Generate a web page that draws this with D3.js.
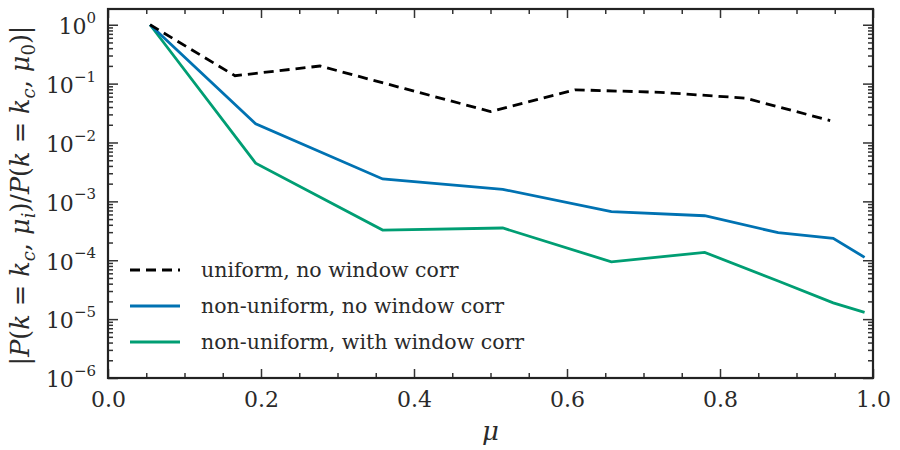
<!DOCTYPE html>
<html>
<head>
<meta charset="utf-8">
<script src="https://cdn.jsdelivr.net/npm/d3@7"></script>
<style>
  body { margin: 0; background: #fff; }
  svg text { font-family: "DejaVu Serif"; fill: #2a2a2a; }
</style>
</head>
<body>
<div id="chart"></div>
<script>
// mu bins
var muUniform = [0.055, 0.166, 0.277, 0.388, 0.5, 0.611, 0.722, 0.833, 0.944];
var muNonUniform = [0.055, 0.193, 0.359, 0.516, 0.658, 0.780, 0.876, 0.948, 0.989];

// |P(k=kc, mu_i) / P(k=kc, mu_0)|
var uniformNoCorr = [1.0, 0.136, 0.199, 0.082, 0.0336, 0.0785, 0.0711, 0.0567, 0.0236];
var nonUniformNoCorr = [1.0, 0.0207, 0.0024, 0.0016, 6.7e-4, 5.7e-4, 2.94e-4, 2.36e-4, 1.12e-4];
var nonUniformWithCorr = [1.0, 4.45e-3, 3.26e-4, 3.53e-4, 9.4e-5, 1.36e-4, 4.43e-5, 1.89e-5, 1.30e-5];

var seriesNames = ["uniform, no window corr", "non-uniform, no window corr", "non-uniform, with window corr"];
var xMajorTicks = [0, 0.2, 0.4, 0.6, 0.8, 1.0];
var yExponents = [0, -1, -2, -3, -4, -5, -6];

var FONT = '"DejaVu Serif"';

var width = 900, height = 450;
var margin = {top: 9, right: 27, bottom: 72, left: 108};
var w = width - margin.left - margin.right;
var h = height - margin.top - margin.bottom;

var svg = d3.select('#chart').append('svg')
  .attr('width', width)
  .attr('height', height)
  .style('font-family', FONT);

var g = svg.append('g').attr('transform', 'translate(' + margin.left + ',' + margin.top + ')');

var x = d3.scaleLinear().domain([0, 1]).range([0, w]);
var y = d3.scaleLog().domain([1e-6, 1.85]).range([h, 0]);

// minor ticks
var xMinor = d3.range(0, 1.0001, 0.05).filter(function(v){ return Math.abs(v*5 - Math.round(v*5)) > 1e-6; });
var yMinor = [];
for (var e = -6; e < 1; e++) {
  for (var m = 2; m < 10; m++) {
    var v = m * Math.pow(10, e);
    if (v <= 1.85) yMinor.push(v);
  }
}

function styleAxis(sel) {
  sel.attr('font-family', FONT);
  sel.select('.domain').remove();
  sel.selectAll('line').attr('stroke', '#333').attr('stroke-width', 1.5);
}

// x axis bottom + top
g.append('g').attr('transform', 'translate(0,' + h + ')')
  .call(d3.axisBottom(x).tickValues(xMajorTicks).tickSizeInner(-9).tickSizeOuter(0).tickPadding(13).tickFormat(d3.format('.1f')))
  .call(styleAxis)
  .selectAll('text').attr('font-size', 22);
g.append('g').attr('transform', 'translate(0,' + h + ')')
  .call(d3.axisBottom(x).tickValues(xMinor).tickSizeInner(-5).tickSizeOuter(0).tickFormat(''))
  .call(styleAxis);
g.append('g')
  .call(d3.axisTop(x).tickValues(xMajorTicks).tickSizeInner(-9).tickSizeOuter(0).tickFormat(''))
  .call(styleAxis);
g.append('g')
  .call(d3.axisTop(x).tickValues(xMinor).tickSizeInner(-5).tickSizeOuter(0).tickFormat(''))
  .call(styleAxis);

// y axis left + right
var yMajor = yExponents.map(function(p){ return Math.pow(10, p); });
var yAxisL = g.append('g')
  .call(d3.axisLeft(y).tickValues(yMajor).tickSizeInner(-10).tickSizeOuter(0).tickPadding(12).tickFormat(''))
  .call(styleAxis);
yAxisL.selectAll('.tick text').each(function(d){
  var t = d3.select(this);
  var p = Math.round(Math.log10(d));
  t.attr('font-size', 22).attr('dy', '0.4em');
  t.append('tspan').text('10');
  t.append('tspan').attr('font-size', 15).attr('dy', '-0.75em').text(p === 0 ? '0' : '\u2212' + Math.abs(p));
});
g.append('g')
  .call(d3.axisLeft(y).tickValues(yMinor).tickSizeInner(-5).tickSizeOuter(0).tickFormat(''))
  .call(styleAxis);
g.append('g').attr('transform', 'translate(' + w + ',0)')
  .call(d3.axisRight(y).tickValues(yMajor).tickSizeInner(-10).tickSizeOuter(0).tickFormat(''))
  .call(styleAxis);
g.append('g').attr('transform', 'translate(' + w + ',0)')
  .call(d3.axisRight(y).tickValues(yMinor).tickSizeInner(-5).tickSizeOuter(0).tickFormat(''))
  .call(styleAxis);

// frame
g.append('rect')
  .attr('width', w).attr('height', h)
  .attr('fill', 'none').attr('stroke', '#222').attr('stroke-width', 2.2);

// lines
var line = d3.line()
  .x(function(d){ return x(d[0]); })
  .y(function(d){ return y(d[1]); });

var series = [
  {name: seriesNames[0], mu: muUniform, vals: uniformNoCorr, color: '#000', dash: '10,6'},
  {name: seriesNames[1], mu: muNonUniform, vals: nonUniformNoCorr, color: '#0072B2', dash: null},
  {name: seriesNames[2], mu: muNonUniform, vals: nonUniformWithCorr, color: '#009E73', dash: null}
];

series.slice().reverse().forEach(function(s){
  g.append('path')
    .datum(d3.zip(s.mu, s.vals))
    .attr('d', line)
    .attr('fill', 'none')
    .attr('stroke', s.color)
    .attr('stroke-width', 2.8)
    .attr('stroke-dasharray', s.dash);
});

// legend
var legend = g.append('g').attr('transform', 'translate(22,' + 261 + ')');
series.forEach(function(s, i){
  var row = legend.append('g').attr('transform', 'translate(0,' + (i * 36) + ')');
  row.append('line')
    .attr('x1', 0).attr('x2', 50).attr('y1', 0).attr('y2', 0)
    .attr('stroke', s.color).attr('stroke-width', 2.8)
    .attr('stroke-dasharray', s.dash);
  row.append('text')
    .attr('x', 71).attr('y', 7)
    .attr('font-size', 20.5)
    .text(s.name);
});

// x label
svg.append('text')
  .attr('x', margin.left + w / 2).attr('y', 440)
  .attr('text-anchor', 'middle')
  .attr('font-size', 26)
  .attr('font-style', 'italic')
  .text('\u03bc');

// y label
var yl = svg.append('text')
  .attr('transform', 'translate(29,' + (margin.top + h / 2 + 2) + ') rotate(-90)')
  .attr('text-anchor', 'middle')
  .attr('font-size', 25.5);
var parts = [
  ['|', 'n'], ['P', 'i'], ['(', 'n'], ['k', 'i'], [' = ', 'n'], ['k', 'i'], ['c', 'sub'], [', ', 'n'], ['\u03bc', 'i'], ['i', 'sub'],
  [')/', 'n'], ['P', 'i'], ['(', 'n'], ['k', 'i'], [' = ', 'n'], ['k', 'i'], ['c', 'sub'], [', ', 'n'], ['\u03bc', 'i'], ['0', 'sub0'], [')|', 'n']
];
var prevSub = false;
parts.forEach(function(p){
  var ts = yl.append('tspan').text(p[0]).attr('xml:space', 'preserve');
  var isSub = p[1] === 'sub' || p[1] === 'sub0';
  if (p[1] === 'i' || p[1] === 'sub') ts.attr('font-style', 'italic');
  if (isSub) ts.attr('font-size', 18);
  if (isSub && !prevSub) ts.attr('dy', 6);
  if (!isSub && prevSub) ts.attr('dy', -6);
  prevSub = isSub;
});
</script>
</body>
</html>
